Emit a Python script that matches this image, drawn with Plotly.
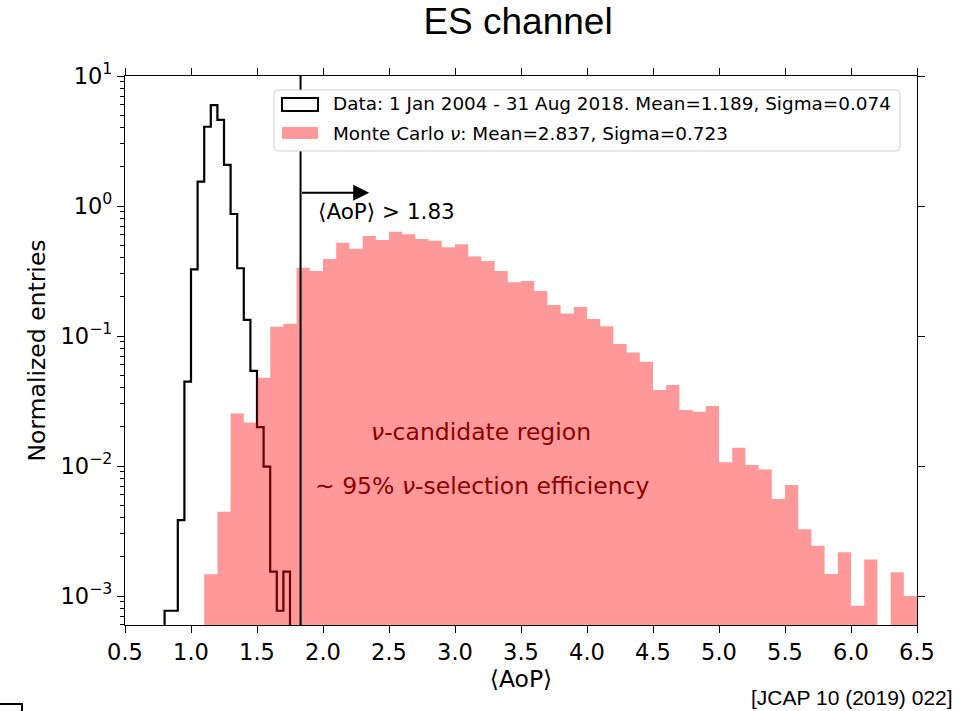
import plotly.graph_objects as go

# ---------------------------------------------------------------
# Histogram contents (normalized entries per unit <AoP>)
# ---------------------------------------------------------------
# Data: 1 Jan 2004 - 31 Aug 2018, bin width 0.05, left bin edges
data_bin_lo = [0.80, 0.85, 0.90, 0.95, 1.00, 1.05, 1.10, 1.15, 1.20, 1.25,
               1.30, 1.35, 1.40, 1.45, 1.50, 1.55, 1.60, 1.65, 1.70]
data_density = [7.7e-4, 7.7e-4, 3.84e-3, 0.0445, 0.326, 1.54, 4.07, 5.98, 4.59, 2.07,
                0.868, 0.332, 0.133, 0.054, 0.0199, 0.00988, 1.54e-3, 7.7e-4, 1.54e-3]
data_bin_width = 0.05

# Monte Carlo neutrino sample, bin width 0.1, left bin edges
mc_bin_lo = [1.1, 1.2, 1.3, 1.4, 1.5, 1.6, 1.7, 1.8, 1.9, 2.0,
             2.1, 2.2, 2.3, 2.4, 2.5, 2.6, 2.7, 2.8, 2.9, 3.0,
             3.1, 3.2, 3.3, 3.4, 3.5, 3.6, 3.7, 3.8, 3.9, 4.0,
             4.1, 4.2, 4.3, 4.4, 4.5, 4.6, 4.7, 4.8, 4.9, 5.0,
             5.1, 5.2, 5.3, 5.4, 5.5, 5.6, 5.7, 5.8, 5.9, 6.0,
             6.1, 6.2, 6.3, 6.4]
mc_density = [0.00147, 0.00445, 0.0254, 0.0216, 0.0478, 0.118, 0.124, 0.335, 0.316, 0.391,
              0.522, 0.470, 0.588, 0.548, 0.635, 0.605, 0.557, 0.541, 0.481, 0.507,
              0.408, 0.377, 0.316, 0.259, 0.265, 0.222, 0.173, 0.149, 0.167, 0.135,
              0.119, 0.0868, 0.0748, 0.0634, 0.0384, 0.042, 0.027, 0.0262, 0.029, 0.0107,
              0.0138, 0.0102, 0.0094, 0.00557, 0.00714, 0.00326, 0.00244, 0.00148, 0.00217, 8.4e-4,
              0.00191, 0.0, 0.00152, 0.0010]
mc_bin_width = 0.1

aop_cut = 1.83

x_tick_vals = [0.5, 1.0, 1.5, 2.0, 2.5, 3.0, 3.5, 4.0, 4.5, 5.0, 5.5, 6.0, 6.5]
x_tick_text = ["0.5", "1.0", "1.5", "2.0", "2.5", "3.0", "3.5", "4.0", "4.5",
               "5.0", "5.5", "6.0", "6.5"]
y_tick_vals = [1e-3, 1e-2, 1e-1, 1e0, 1e1]
y_tick_text = ["10<sup>\u22123</sup>", "10<sup>\u22122</sup>", "10<sup>\u22121</sup>",
               "10<sup>0</sup>", "10<sup>1</sup>"]
y_minor_vals = [m * 10.0 ** e for e in range(-4, 1) for m in range(2, 10)]

data_label = "Data: 1 Jan 2004 - 31 Aug 2018. Mean=1.189, Sigma=0.074"
mc_label = "Monte Carlo <i>\u03bd</i>: Mean=2.837, Sigma=0.723"

Y_RANGE = [-3.223, 1.0]

# ---------------------------------------------------------------
# Figure geometry
# ---------------------------------------------------------------
W, H = 962, 711
L, R, T, B = 125, 917, 76, 625
FLOOR = 1e-7  # below the visible range, used to close step outlines


def px_x(px):
    return (px - L) / (R - L)


def px_y(py):
    return (B - py) / (B - T)


def step_outline(lo, vals, width):
    xs, ys = [lo[0]], [FLOOR]
    for edge, v in zip(lo, vals):
        h = v if v > 0 else FLOOR
        xs += [edge, edge + width]
        ys += [h, h]
    xs.append(lo[-1] + width)
    ys.append(FLOOR)
    return xs, ys


fig = go.Figure()

dx, dy = step_outline(data_bin_lo, data_density, data_bin_width)
fig.add_trace(go.Scatter(
    x=dx, y=dy, mode="lines", name=data_label,
    line=dict(color="black", width=2.2), showlegend=False,
))

mx, my = step_outline(mc_bin_lo, mc_density, mc_bin_width)
fig.add_trace(go.Scatter(
    x=mx, y=my, mode="lines", name=mc_label, fill="toself",
    fillcolor="rgba(255,0,0,0.4)", line=dict(width=0), showlegend=False,
))

# empty trace that carries the right-hand tick axis
fig.add_trace(go.Scatter(x=[], y=[], yaxis="y2", showlegend=False, hoverinfo="skip"))

# Selection cut
fig.add_shape(type="line", xref="x", yref="paper", x0=aop_cut, x1=aop_cut, y0=0, y1=1,
              line=dict(color="black", width=2), layer="above")

# Legend frame and handles
bx0, bx1, by0, by1, rad = 274, 900, 90, 151, 4
path = (f"M {px_x(bx0 + rad)} {px_y(by0)} L {px_x(bx1 - rad)} {px_y(by0)} "
        f"Q {px_x(bx1)} {px_y(by0)} {px_x(bx1)} {px_y(by0 + rad)} "
        f"L {px_x(bx1)} {px_y(by1 - rad)} Q {px_x(bx1)} {px_y(by1)} {px_x(bx1 - rad)} {px_y(by1)} "
        f"L {px_x(bx0 + rad)} {px_y(by1)} Q {px_x(bx0)} {px_y(by1)} {px_x(bx0)} {px_y(by1 - rad)} "
        f"L {px_x(bx0)} {px_y(by0 + rad)} Q {px_x(bx0)} {px_y(by0)} {px_x(bx0 + rad)} {px_y(by0)} Z")
fig.add_shape(type="path", xref="paper", yref="paper", path=path,
              fillcolor="white", line=dict(color="#d0d0d0", width=1), layer="above")
fig.add_shape(type="rect", xref="paper", yref="paper",
              x0=px_x(282), x1=px_x(318), y0=px_y(111), y1=px_y(98),
              fillcolor="white", line=dict(color="black", width=2), layer="above")
fig.add_shape(type="rect", xref="paper", yref="paper",
              x0=px_x(282), x1=px_x(318), y0=px_y(139), y1=px_y(127),
              fillcolor="rgba(255,0,0,0.4)", line=dict(width=0), layer="above")

# Small corner mark at the lower left of the page
fig.add_shape(type="path", xref="paper", yref="paper",
              path=f"M {px_x(-2)} {px_y(704)} L {px_x(22)} {px_y(704)} L {px_x(22)} {px_y(713)}",
              line=dict(color="black", width=2), layer="above")

ann = []
ann.append(dict(x=px_x(331), y=px_y(104), xref="paper", yref="paper", text=data_label,
                showarrow=False, xanchor="left", yanchor="middle",
                font=dict(size=18.4, color="black")))
ann.append(dict(x=px_x(331), y=px_y(133), xref="paper", yref="paper", text=mc_label,
                showarrow=False, xanchor="left", yanchor="middle",
                font=dict(size=18.4, color="black")))
# arrow pointing to the accepted region
ann.append(dict(x=2.35, y=0.102, xref="x", yref="y", ax=aop_cut, ay=0.102,
                axref="x", ayref="y", showarrow=True, arrowhead=2, arrowsize=1.6,
                arrowwidth=2, arrowcolor="black", standoff=0, startstandoff=0, text=""))
ann.append(dict(x=1.945, y=-0.044, xref="x", yref="y", text="\u27e8AoP\u27e9 > 1.83",
                showarrow=False, xanchor="left", yanchor="middle",
                font=dict(size=21.5, color="black")))
ann.append(dict(x=3.194, y=-1.736, xref="x", yref="y", text="<i>\u03bd</i>-candidate region",
                showarrow=False, xanchor="center", yanchor="middle",
                font=dict(size=23.5, color="#8b0000")))
ann.append(dict(x=3.204, y=-2.154, xref="x", yref="y",
                text="\u223c 95% <i>\u03bd</i>-selection efficiency",
                showarrow=False, xanchor="center", yanchor="middle",
                font=dict(size=23.5, color="#8b0000")))
ann.append(dict(x=px_x(955), y=px_y(697), xref="paper", yref="paper",
                text="[JCAP 10 (2019) 022]", showarrow=False, xanchor="right",
                yanchor="middle", font=dict(family="Liberation Sans", size=21, color="black")))

fig.update_layout(
    width=W, height=H, autosize=False,
    template="none",
    paper_bgcolor="white", plot_bgcolor="white",
    margin=dict(l=L, r=W - R, t=T, b=H - B, pad=0),
    font=dict(family="DejaVu Sans", size=22, color="black"),
    title=dict(text="ES channel", x=518 / W, xanchor="center", xref="container",
               y=1 - 21 / H, yanchor="middle", yref="container",
               font=dict(family="Liberation Sans", size=37, color="black")),
    annotations=ann,
    showlegend=False,
)

fig.update_xaxes(
    range=[0.5, 6.5], tickmode="array", tickvals=x_tick_vals, ticktext=x_tick_text,
    ticks="outside", ticklen=7, tickwidth=1.2, tickcolor="black",
    showline=True, linecolor="black", linewidth=1.2, mirror="ticks",
    showgrid=False, zeroline=False, tickfont=dict(size=22.5),
    title=dict(text="\u27e8AoP\u27e9", font=dict(size=23.5), standoff=4),
)
fig.update_layout(
    yaxis=dict(
        type="log", range=Y_RANGE, tickmode="array", tickvals=y_tick_vals, ticktext=y_tick_text,
        ticks="outside", ticklen=7, tickwidth=1.2, tickcolor="black",
        minor=dict(tickmode="array", tickvals=y_minor_vals, ticks="outside", ticklen=4,
                   tickwidth=1, tickcolor="black", showgrid=False),
        showline=True, linecolor="black", linewidth=1.2, mirror=True,
        showgrid=False, zeroline=False, tickfont=dict(size=22.5),
        title=dict(text="Normalized entries", font=dict(size=23.5), standoff=8),
    ),
    yaxis2=dict(
        type="log", range=Y_RANGE, overlaying="y", side="right", anchor="x",
        tickmode="array", tickvals=y_tick_vals, showticklabels=False,
        ticks="outside", ticklen=7, tickwidth=1.2, tickcolor="black",
        showline=False, showgrid=False, zeroline=False,
    ),
)

fig.write_html("out.html")
